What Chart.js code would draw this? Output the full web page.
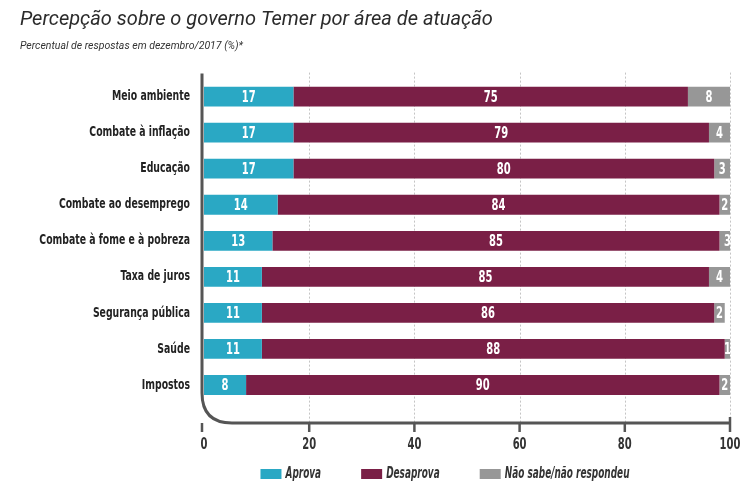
<!DOCTYPE html>
<html>
<head>
<meta charset="utf-8">
<script src="https://cdn.jsdelivr.net/npm/chart.js@4"></script>
<style>
  html, body { margin: 0; padding: 0; background: #fff; }
  #wrap { width: 753px; height: 497px; }
</style>
</head>
<body>
<div id="wrap"><canvas id="chart"></canvas></div>
<script>
// Dados
const categorias = ['Meio ambiente', 'Combate à inflação', 'Educação', 'Combate ao desemprego',
    'Combate à fome e à pobreza', 'Taxa de juros', 'Segurança pública', 'Saúde', 'Impostos'];
const aprova = [17, 17, 17, 14, 13, 11, 11, 11, 8];
const desaprova = [75, 79, 80, 84, 85, 85, 86, 88, 90];
const naoSabe = [8, 4, 3, 2, 3, 4, 2, 1, 2];
const xTicks = [0, 20, 40, 60, 80, 100];

const condFont = "'DejaVu Sans Condensed', 'DejaVu Sans', sans-serif";
const NARROW = 0.74;   // fonte estreita simulada
const AXIS_GAP = 20;   // distancia entre a area das barras e a linha do eixo

// escreve texto comprimido na horizontal
function narrowText(ctx, text, x, y, align, k = NARROW) {
    ctx.save();
    ctx.translate(x, y);
    ctx.scale(k, 1);
    ctx.textAlign = align;
    ctx.fillText(text, 0, 0);
    ctx.restore();
}

// grade pontilhada + eixo com canto arredondado
const axisPlugin = {
    id: 'axisPlugin',
    beforeDatasetsDraw(chart) {
        const ctx = chart.ctx;
        const area = chart.chartArea;
        const x = chart.scales.x;
        const axisY = area.bottom + AXIS_GAP;
        ctx.save();
        ctx.strokeStyle = '#c4c4c4';
        ctx.lineWidth = 1;
        ctx.setLineDash([2, 2]);
        xTicks.forEach(v => {
            if (v === 0) return;
            const px = Math.round(x.getPixelForValue(v)) + 0.5;
            ctx.beginPath();
            ctx.moveTo(px, area.top - 6);
            ctx.lineTo(px, axisY);
            ctx.stroke();
        });
        ctx.restore();
    },
    afterDatasetsDraw(chart) {
        const ctx = chart.ctx;
        const area = chart.chartArea;
        const x = chart.scales.x;
        const y = chart.scales.y;
        const axisY = area.bottom + AXIS_GAP;
        const left = x.getPixelForValue(0) - 2;
        const r = 30;
        ctx.save();
        ctx.strokeStyle = '#555';
        ctx.lineWidth = 3;
        ctx.beginPath();
        ctx.moveTo(left, area.top - 5);
        ctx.lineTo(left, axisY - r);
        ctx.quadraticCurveTo(left, axisY, left + r, axisY);
        ctx.lineTo(x.getPixelForValue(100), axisY);
        ctx.stroke();
        ctx.lineWidth = 2.5;
        xTicks.forEach(v => {
            const px = x.getPixelForValue(v) - (v === 0 ? 2 : 0);
            ctx.beginPath();
            ctx.moveTo(px, v === 100 ? axisY - 6 : axisY);
            ctx.lineTo(px, axisY + 9);
            ctx.stroke();
        });

        // rotulos das categorias
        ctx.fillStyle = '#222';
        ctx.font = 'bold 14px ' + condFont;
        ctx.textBaseline = 'middle';
        categorias.forEach((c, i) => {
            narrowText(ctx, c, left - 12, y.getPixelForTick(i), 'right');
        });

        // rotulos do eixo x
        ctx.fillStyle = '#333';
        ctx.font = 'bold 15px ' + condFont;
        xTicks.forEach(v => {
            narrowText(ctx, String(v), x.getPixelForValue(v), axisY + 22, 'center');
        });
        ctx.restore();
    }
};

// rotulos de valor dentro das barras
const valueLabels = {
    id: 'valueLabels',
    afterDatasetsDraw(chart) {
        const ctx = chart.ctx;
        ctx.save();
        ctx.fillStyle = '#ffffff';
        ctx.font = 'bold 15px ' + condFont;
        ctx.textBaseline = 'middle';
        chart.data.datasets.forEach((ds, i) => {
            chart.getDatasetMeta(i).data.forEach((bar, j) => {
                const cx = (bar.x + bar.base) / 2;
                narrowText(ctx, String(ds.data[j]), cx, bar.y + 1, 'center');
            });
        });
        ctx.restore();
    }
};

// legenda desenhada embaixo
const legendPlugin = {
    id: 'legendPlugin',
    afterDraw(chart) {
        const ctx = chart.ctx;
        const area = chart.chartArea;
        const ly = area.bottom + 71;
        const k = 0.64;
        const box = 21, gapText = 4, gapItem = 40;
        ctx.save();
        ctx.font = 'italic bold 15.5px ' + condFont;
        ctx.textBaseline = 'middle';
        const items = chart.data.datasets.map(ds => ({
            text: ds.label,
            color: ds.backgroundColor,
            w: ctx.measureText(ds.label).width * k
        }));
        const total = items.reduce((s, it) => s + box + gapText + it.w, 0) + gapItem * (items.length - 1);
        let cx = (area.left + area.right) / 2 - 22 - total / 2;
        items.forEach(it => {
            ctx.fillStyle = it.color;
            ctx.fillRect(cx, ly - 5, box, 10);
            ctx.fillStyle = '#333';
            narrowText(ctx, it.text, cx + box + gapText, ly, 'left', k);
            cx += box + gapText + it.w + gapItem;
        });
        ctx.restore();
    }
};

new Chart(document.getElementById('chart'), {
    type: 'bar',
    data: {
        labels: categorias,
        datasets: [
            { label: 'Aprova', data: aprova, backgroundColor: '#2AA8C4' },
            { label: 'Desaprova', data: desaprova, backgroundColor: '#7A1F46' },
            { label: 'Não sabe/não respondeu', data: naoSabe, backgroundColor: '#979797' }
        ]
    },
    options: {
        indexAxis: 'y',
        responsive: true,
        maintainAspectRatio: false,
        animation: false,
        layout: { padding: { left: 20, right: 23, top: 2, bottom: 38 } },
        datasets: { bar: { barPercentage: 0.55, categoryPercentage: 1, borderWidth: 0 } },
        plugins: {
            title: {
                display: true,
                text: 'Percepção sobre o governo Temer por área de atuação',
                align: 'start',
                color: '#2b2b2b',
                font: { family: 'Roboto, sans-serif', size: 20, style: 'italic', weight: 'normal' },
                padding: { top: 6, bottom: 8 }
            },
            subtitle: {
                display: true,
                text: 'Percentual de respostas em dezembro/2017 (%)*',
                align: 'start',
                color: '#333',
                font: { family: 'Roboto, sans-serif', size: 10.5, style: 'italic' },
                padding: { bottom: 26 }
            },
            legend: { display: false },
            tooltip: { enabled: false }
        },
        scales: {
            x: {
                stacked: true,
                min: 0,
                max: 100,
                grid: { display: false },
                border: { display: false },
                afterFit(scale) { scale.height = 56; },
                ticks: { stepSize: 20, display: false }
            },
            y: {
                stacked: true,
                grid: { display: false },
                border: { display: false },
                afterFit(scale) { scale.width = 184; },
                ticks: { display: false }
            }
        }
    },
    plugins: [axisPlugin, valueLabels, legendPlugin]
});
</script>
</body>
</html>
